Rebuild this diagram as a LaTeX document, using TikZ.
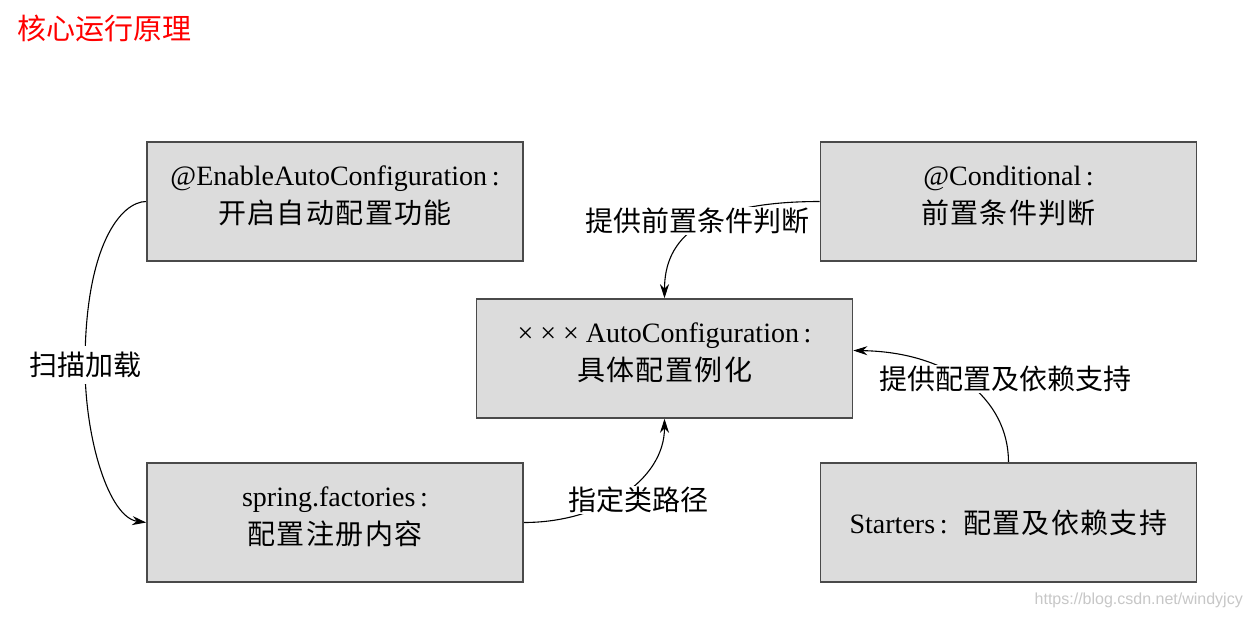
\documentclass[tikz,border=0pt]{standalone}
\usepackage{fontspec}
\setmainfont{Liberation Serif}
\newfontfamily\cjk{Noto Sans CJK SC}
\newfontfamily\cjkw{Noto Sans CJK SC}[LetterSpace=5]
\newfontfamily\wmfont{Liberation Sans}
\usetikzlibrary{arrows.meta,backgrounds,calc}
\definecolor{boxfill}{HTML}{DCDCDC}
\definecolor{boxline}{HTML}{4A4A4A}
\definecolor{titlered}{HTML}{FF0000}
\tikzset{
  box/.style={draw=boxline, line width=1.6pt, fill=boxfill, minimum width=376pt,
    minimum height=119pt, align=center, inner sep=0pt, font=\fontsize{28}{38}\selectfont},
  twoline/.style={box, text depth=13pt},
  lab/.style={fill=white, inner xsep=2pt, inner ysep=1pt, font=\cjk\fontsize{28}{30}\selectfont},
  conn/.style={line width=1.1pt, -{Stealth[length=14pt,width=9pt]}},
}
\begin{document}
\begin{tikzpicture}[x=1pt,y=-1pt]
\useasboundingbox (0,0) rectangle (1252,619);
\node[anchor=west, text=titlered, font=\cjk\fontsize{29}{30}\selectfont, inner sep=0pt] (title) at (17,28) {核心运行原理};

\node[twoline] (enable) at (335,201.5) {@EnableAutoConfiguration\,:\\{\cjkw 开启自动配置功能}};
\node[twoline] (cond) at (1008.5,201.5) {@Conditional\,:\\{\cjkw 前置条件判断}};
\node[twoline] (xxx) at (664.5,358.5) {× × × AutoConfiguration\,:\\{\cjkw 具体配置例化}};
\node[twoline] (spring) at (335,522.5) {spring.factories\,:\\{\cjkw 配置注册内容}};
\node[box] (starters) at (1008.5,522.5) {Starters\,:\hspace{0.55em}{\cjkw 配置及依赖支持}};

\node[lab, inner ysep=6pt] (l1) at (85,365) {扫描加载};
\node[lab] (l2) at (697,221) {提供前置条件判断};
\node[lab] (l3) at (1005,379) {提供配置及依赖支持};
\node[lab] (l4) at (638,500) {指定类路径};

\node[anchor=east, text=black!22, font=\wmfont\fontsize{16}{18}\selectfont, inner sep=0pt] (wm) at (1243,600) {https://blog.csdn.net/windyjcy};

\begin{scope}[on background layer]
\fill[white] (0,0) rectangle (1252,619);
\draw[conn] (enable.west) .. controls +(-25,0) and +(0,-120) .. (l1.center)
  .. controls +(0,75) and +(-37,-5) .. (spring.west);
\draw[conn] (cond.west) .. controls +(-120,0) and +(0,-59) .. (xxx.north);
\draw[conn] (starters.north) .. controls +(0,-63) and +(97,1.5) .. ([yshift=8pt]xxx.east);
\draw[conn] (spring.east) .. controls +(77,0) and +(0,61) .. (xxx.south);
\end{scope}
\end{tikzpicture}
\end{document}
